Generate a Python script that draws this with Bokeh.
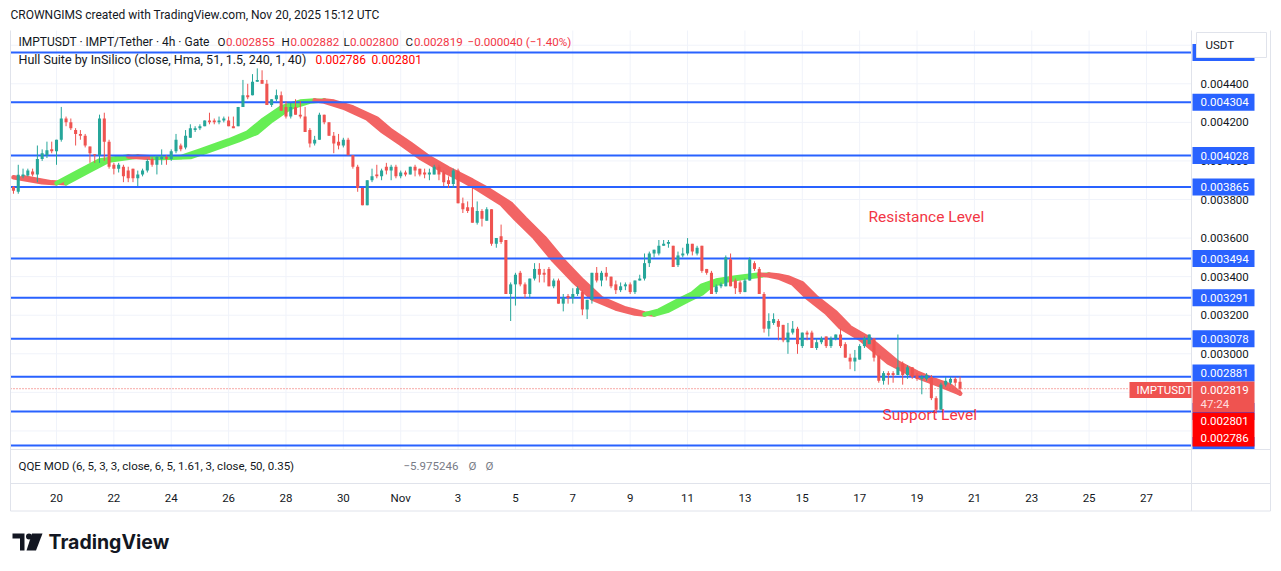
from datetime import datetime, timezone
from bokeh.plotting import figure
from bokeh.models import Range1d
from bokeh.core.properties import value
from bokeh.embed import file_html
from bokeh.resources import INLINE

# ---------------- data ----------------
first_bar = "2025-10-18T12:00"
bar_hours = 4

opens = [
    0.003865, 0.003840, 0.003920, 0.003925, 0.003945, 0.003930, 0.004010, 0.004030, 0.004060, 0.004050,
    0.004110, 0.004220, 0.004200, 0.004160, 0.004140, 0.004130, 0.004075, 0.004035, 0.004030, 0.004220,
    0.004100, 0.003980, 0.003960, 0.003970, 0.003950, 0.003960, 0.003910, 0.003930, 0.003950, 0.004010,
    0.003980, 0.004010, 0.004020, 0.004010, 0.004050, 0.004080, 0.004070, 0.004120, 0.004160, 0.004170,
    0.004180, 0.004210, 0.004210, 0.004200, 0.004210, 0.004210, 0.004180, 0.004180, 0.004280, 0.004340,
    0.004340, 0.004410, 0.004420, 0.004400, 0.004290, 0.004320, 0.004340, 0.004280, 0.004230, 0.004280,
    0.004240, 0.004230, 0.004160, 0.004090, 0.004110, 0.004240, 0.004200, 0.004130, 0.004100, 0.004080,
    0.004110, 0.004030, 0.003970, 0.003860, 0.003770, 0.003900, 0.003930, 0.003920, 0.003970, 0.003950,
    0.003970, 0.003920, 0.003940, 0.003930, 0.003970, 0.003960, 0.003940, 0.003930, 0.003930, 0.003970,
    0.003940, 0.003900, 0.003880, 0.003950, 0.003780, 0.003760, 0.003760, 0.003680, 0.003740, 0.003690,
    0.003750, 0.003570, 0.003610, 0.003590, 0.003310, 0.003360, 0.003420, 0.003360, 0.003310, 0.003390,
    0.003440, 0.003420, 0.003440, 0.003350, 0.003380, 0.003260, 0.003300, 0.003290, 0.003310, 0.003320,
    0.003230, 0.003280, 0.003420, 0.003380, 0.003420, 0.003400, 0.003360, 0.003330, 0.003350, 0.003360,
    0.003320, 0.003380, 0.003390, 0.003470, 0.003520, 0.003520, 0.003560, 0.003570, 0.003560, 0.003460,
    0.003510, 0.003520, 0.003570, 0.003520, 0.003560, 0.003440, 0.003420, 0.003320, 0.003350, 0.003350,
    0.003490, 0.003380, 0.003370, 0.003320, 0.003380, 0.003470, 0.003440, 0.003310, 0.003130, 0.003160,
    0.003170, 0.003150, 0.003060, 0.003110, 0.003130, 0.003040, 0.003110, 0.003110, 0.003030, 0.003060,
    0.003090, 0.003040, 0.003080, 0.003100, 0.003050, 0.002980, 0.002960, 0.002970, 0.003040, 0.003050,
    0.003080, 0.002990, 0.002860, 0.002900, 0.002900, 0.002890, 0.002950, 0.002890, 0.002930, 0.002890,
    0.002870, 0.002870, 0.002880, 0.002770, 0.002710, 0.002840, 0.002850, 0.002870, 0.002855,
]
highs = [
    0.003870, 0.003980, 0.003960, 0.003960, 0.003960, 0.004080, 0.004060, 0.004100, 0.004100, 0.004110,
    0.004280, 0.004230, 0.004220, 0.004170, 0.004160, 0.004140, 0.004075, 0.004035, 0.004240, 0.004250,
    0.004110, 0.003990, 0.003990, 0.003980, 0.003970, 0.003960, 0.003950, 0.003960, 0.004010, 0.004020,
    0.004030, 0.004060, 0.004030, 0.004060, 0.004140, 0.004090, 0.004160, 0.004190, 0.004180, 0.004190,
    0.004210, 0.004250, 0.004220, 0.004230, 0.004230, 0.004230, 0.004230, 0.004280, 0.004420, 0.004400,
    0.004450, 0.004480, 0.004470, 0.004420, 0.004320, 0.004370, 0.004360, 0.004310, 0.004300, 0.004320,
    0.004310, 0.004280, 0.004170, 0.004130, 0.004250, 0.004240, 0.004200, 0.004150, 0.004140, 0.004120,
    0.004120, 0.004030, 0.003980, 0.003860, 0.003900, 0.003960, 0.003980, 0.003960, 0.003990, 0.003980,
    0.003980, 0.003950, 0.003950, 0.003970, 0.003980, 0.003960, 0.003960, 0.003960, 0.003980, 0.003980,
    0.003950, 0.003920, 0.003960, 0.003960, 0.003810, 0.003790, 0.003860, 0.003790, 0.003750, 0.003760,
    0.003750, 0.003600, 0.003670, 0.003590, 0.003370, 0.003420, 0.003430, 0.003370, 0.003390, 0.003470,
    0.003470, 0.003440, 0.003450, 0.003390, 0.003390, 0.003310, 0.003310, 0.003340, 0.003350, 0.003330,
    0.003280, 0.003420, 0.003450, 0.003430, 0.003450, 0.003400, 0.003380, 0.003370, 0.003370, 0.003370,
    0.003380, 0.003410, 0.003520, 0.003530, 0.003540, 0.003590, 0.003590, 0.003590, 0.003560, 0.003530,
    0.003550, 0.003600, 0.003570, 0.003560, 0.003560, 0.003440, 0.003430, 0.003360, 0.003370, 0.003510,
    0.003520, 0.003390, 0.003380, 0.003390, 0.003500, 0.003480, 0.003450, 0.003320, 0.003210, 0.003210,
    0.003180, 0.003150, 0.003160, 0.003170, 0.003140, 0.003110, 0.003120, 0.003120, 0.003080, 0.003090,
    0.003090, 0.003090, 0.003100, 0.003130, 0.003060, 0.003000, 0.003020, 0.003050, 0.003090, 0.003100,
    0.003080, 0.002990, 0.002910, 0.002910, 0.002910, 0.003100, 0.002960, 0.002940, 0.002930, 0.002900,
    0.002890, 0.002900, 0.002890, 0.002780, 0.002850, 0.002880, 0.002880, 0.002880, 0.002882,
]
lows = [
    0.003830, 0.003830, 0.003910, 0.003920, 0.003920, 0.003890, 0.004000, 0.004015, 0.004040, 0.003980,
    0.004100, 0.004180, 0.004160, 0.004080, 0.004110, 0.004070, 0.003990, 0.003990, 0.003990, 0.004000,
    0.003960, 0.003930, 0.003940, 0.003890, 0.003890, 0.003890, 0.003870, 0.003920, 0.003940, 0.003970,
    0.003930, 0.003980, 0.003980, 0.004000, 0.004040, 0.004050, 0.004060, 0.004120, 0.004150, 0.004160,
    0.004180, 0.004190, 0.004190, 0.004190, 0.004200, 0.004180, 0.004170, 0.004180, 0.004280, 0.004320,
    0.004340, 0.004410, 0.004400, 0.004290, 0.004280, 0.004310, 0.004260, 0.004220, 0.004220, 0.004240,
    0.004220, 0.004150, 0.004070, 0.004080, 0.004110, 0.004190, 0.004130, 0.004040, 0.004060, 0.004070,
    0.004030, 0.003960, 0.003840, 0.003770, 0.003770, 0.003890, 0.003910, 0.003900, 0.003930, 0.003900,
    0.003910, 0.003910, 0.003920, 0.003930, 0.003920, 0.003920, 0.003910, 0.003900, 0.003930, 0.003900,
    0.003870, 0.003860, 0.003860, 0.003780, 0.003730, 0.003730, 0.003680, 0.003670, 0.003660, 0.003690,
    0.003560, 0.003550, 0.003570, 0.003310, 0.003170, 0.003250, 0.003350, 0.003290, 0.003290, 0.003380,
    0.003370, 0.003370, 0.003350, 0.003340, 0.003260, 0.003220, 0.003260, 0.003260, 0.003300, 0.003200,
    0.003180, 0.003260, 0.003370, 0.003350, 0.003380, 0.003340, 0.003310, 0.003320, 0.003330, 0.003310,
    0.003310, 0.003380, 0.003380, 0.003450, 0.003500, 0.003510, 0.003560, 0.003550, 0.003450, 0.003450,
    0.003500, 0.003510, 0.003510, 0.003510, 0.003420, 0.003410, 0.003310, 0.003310, 0.003340, 0.003350,
    0.003350, 0.003310, 0.003310, 0.003320, 0.003380, 0.003430, 0.003310, 0.003110, 0.003090, 0.003150,
    0.003070, 0.003060, 0.003000, 0.003100, 0.003000, 0.003030, 0.003070, 0.003030, 0.003020, 0.003050,
    0.003030, 0.003030, 0.003070, 0.003030, 0.002980, 0.002920, 0.002910, 0.002970, 0.003030, 0.003050,
    0.002960, 0.002850, 0.002840, 0.002840, 0.002850, 0.002890, 0.002840, 0.002870, 0.002870, 0.002860,
    0.002790, 0.002860, 0.002760, 0.002690, 0.002710, 0.002830, 0.002840, 0.002830, 0.002800,
]
closes = [
    0.003845, 0.003928, 0.003930, 0.003950, 0.003930, 0.004010, 0.004040, 0.004055, 0.004050, 0.004110,
    0.004220, 0.004200, 0.004170, 0.004140, 0.004130, 0.004080, 0.004040, 0.004030, 0.004220, 0.004100,
    0.003970, 0.003960, 0.003980, 0.003920, 0.003910, 0.003910, 0.003930, 0.003950, 0.004000, 0.003980,
    0.004020, 0.004020, 0.004010, 0.004050, 0.004110, 0.004060, 0.004130, 0.004170, 0.004170, 0.004180,
    0.004210, 0.004200, 0.004200, 0.004210, 0.004220, 0.004180, 0.004170, 0.004280, 0.004340, 0.004330,
    0.004410, 0.004420, 0.004400, 0.004290, 0.004320, 0.004340, 0.004260, 0.004230, 0.004280, 0.004240,
    0.004230, 0.004150, 0.004090, 0.004110, 0.004240, 0.004200, 0.004130, 0.004090, 0.004080, 0.004110,
    0.004030, 0.003970, 0.003860, 0.003770, 0.003900, 0.003920, 0.003920, 0.003950, 0.003950, 0.003970,
    0.003920, 0.003940, 0.003930, 0.003970, 0.003950, 0.003930, 0.003930, 0.003940, 0.003970, 0.003930,
    0.003890, 0.003880, 0.003950, 0.003780, 0.003750, 0.003740, 0.003680, 0.003740, 0.003700, 0.003750,
    0.003570, 0.003600, 0.003580, 0.003310, 0.003360, 0.003410, 0.003360, 0.003310, 0.003390, 0.003440,
    0.003410, 0.003410, 0.003350, 0.003380, 0.003260, 0.003290, 0.003290, 0.003310, 0.003340, 0.003230,
    0.003280, 0.003420, 0.003380, 0.003420, 0.003400, 0.003350, 0.003330, 0.003350, 0.003360, 0.003320,
    0.003380, 0.003390, 0.003470, 0.003520, 0.003540, 0.003560, 0.003570, 0.003580, 0.003450, 0.003510,
    0.003520, 0.003570, 0.003530, 0.003550, 0.003430, 0.003420, 0.003310, 0.003350, 0.003360, 0.003500,
    0.003350, 0.003340, 0.003320, 0.003380, 0.003490, 0.003440, 0.003310, 0.003130, 0.003170, 0.003180,
    0.003140, 0.003070, 0.003110, 0.003130, 0.003050, 0.003110, 0.003100, 0.003030, 0.003060, 0.003080,
    0.003040, 0.003080, 0.003100, 0.003040, 0.002980, 0.002960, 0.002980, 0.003040, 0.003080, 0.003100,
    0.002980, 0.002860, 0.002900, 0.002890, 0.002890, 0.002930, 0.002890, 0.002930, 0.002880, 0.002870,
    0.002880, 0.002890, 0.002770, 0.002710, 0.002840, 0.002860, 0.002870, 0.002850, 0.002819,
]

# Hull Suite centre line (bar index, value)
hull_bar = [0, 6, 9, 14, 18, 24, 29, 35, 39, 45, 49, 52, 56, 60, 63, 65, 69, 74, 77, 81, 85, 89, 94,
            97, 102, 105, 109, 113, 117, 121, 126, 130, 132, 135, 139, 142, 144, 147, 151, 156, 158,
            160, 163, 166, 170, 173, 177, 180, 183, 187, 190, 194, 198]
hull_val = [0.003915, 0.003889, 0.003884, 0.003950, 0.004002, 0.004023, 0.004015, 0.004020, 0.004054,
            0.004106, 0.004147, 0.004209, 0.004277, 0.004308, 0.004314, 0.004308, 0.004277, 0.004220,
            0.004157, 0.004090, 0.004018, 0.003961, 0.003898, 0.003857, 0.003779, 0.003701, 0.003603,
            0.003484, 0.003380, 0.003287, 0.003235, 0.003209, 0.003204, 0.003224, 0.003276, 0.003313,
            0.003354, 0.003380, 0.003396, 0.003411, 0.003406, 0.003396, 0.003365, 0.003292, 0.003214,
            0.003137, 0.003079, 0.003017, 0.002955, 0.002903, 0.002872, 0.002835, 0.002794]

level_prices = [0.004562, 0.004304, 0.004028, 0.003865, 0.003494, 0.003291, 0.003078, 0.002881,
                0.002701, 0.002525]
# labels of the first and last level are hidden behind other boxes in the reference
level_labels = ["", "0.004304", "0.004028", "0.003865", "0.003494", "0.003291", "0.003078",
                "0.002881", "", ""]

price_ticks = [0.0030, 0.0032, 0.0034, 0.0036, 0.0038, 0.0040, 0.0042, 0.0044]
price_tick_labels = ["0.003000", "0.003200", "0.003400", "0.003600", "0.003800", "0.004000",
                     "0.004200", "0.004400"]
grid_prices = [0.0026, 0.0028, 0.0030, 0.0032, 0.0034, 0.0036, 0.0038, 0.0040, 0.0042, 0.0044, 0.0046]

date_ticks = ["2025-10-20", "2025-10-22", "2025-10-24", "2025-10-26", "2025-10-28", "2025-10-30",
              "2025-11-01", "2025-11-03", "2025-11-05", "2025-11-07", "2025-11-09", "2025-11-11",
              "2025-11-13", "2025-11-15", "2025-11-17", "2025-11-19", "2025-11-21", "2025-11-23",
              "2025-11-25", "2025-11-27"]
date_tick_labels = ["20", "22", "24", "26", "28", "30", "Nov", "3", "5", "7", "9", "11", "13", "15",
                    "17", "19", "21", "23", "25", "27"]

last_open, last_high, last_low, last_close = 0.002855, 0.002882, 0.002800, 0.002819
hull_now = [0.002786, 0.002801]

# ---------------- geometry helpers ----------------
def ms(s):
    return datetime.fromisoformat(s).replace(tzinfo=timezone.utc).timestamp() * 1000.0

DAY = 86400000.0
H4 = bar_hours * 3600000.0
W, H = 1281, 571
PX_DAY = 28.684
X_ORIGIN = ms("2025-10-20") - 56.0 / PX_DAY * DAY
PP = 5.185e-6                      # price per pixel
Y_TOP = 0.0030 + 353.3 * PP

def X(px):
    return X_ORIGIN + px / PX_DAY * DAY

def Y(py):
    return Y_TOP - py * PP

t0 = ms(first_bar)
times = [t0 + i * H4 for i in range(len(closes))]
t_last = times[-1]

p = figure(width=W, height=H, x_range=Range1d(X(0), X(W)), y_range=Range1d(Y(H), Y(0)),
           x_axis_type=None, y_axis_type=None, toolbar_location=None, output_backend="svg",
           min_border=0, outline_line_color=None, background_fill_color="white",
           border_fill_color="white")

FONT = value("Roboto")
DARK = "#131722"
GRIDC = "#f0f3fa"
BORDER = "#e0e3eb"
BLUE = "#2962ff"
UP = "#26a69a"
DN = "#ef5350"

def txt(px, py, s, color=DARK, size="12px", align="left", bold=False, font=FONT):
    p.text(x=[X(px)], y=[Y(py)], text=[s], text_color=color, text_font_size=size,
           text_align=align, text_baseline="middle", text_font=font,
           text_font_style="bold" if bold else "normal")

# ---------------- grid ----------------
dt = [ms(d) for d in date_ticks]
p.segment(x0=dt, y0=[Y(30)] * len(dt), x1=dt, y1=[Y(449)] * len(dt), line_color=GRIDC, line_width=1)
p.segment(x0=[X(10)] * len(grid_prices), y0=grid_prices, x1=[X(1191)] * len(grid_prices),
          y1=grid_prices, line_color=GRIDC, line_width=1)

# ---------------- Hull band (HULL and HULL[2]) ----------------
hx = [t0 + b * H4 for b in hull_bar]
shift = 2 * H4
runs = []
k = 0
while k < len(hx) - 1:
    up = hull_val[k + 1] > hull_val[k]
    j = k
    while j < len(hx) - 1 and (hull_val[j + 1] > hull_val[j]) == up:
        j += 1
    runs.append((k, j, up))
    k = j
GREEN_B = "#66ee55"
RED_B = "#f26464"
pxs, pys, pcs, lxs, lys, lcs = [], [], [], [], [], []
for a, b, up in runs:
    fx = hx[a:b + 1]
    fy = hull_val[a:b + 1]
    sx = [min(v + shift, t_last) for v in fx]
    col = GREEN_B if up else RED_B
    pxs.append(fx + sx[::-1])
    pys.append(fy + fy[::-1])
    pcs.append(col)
    lxs += [fx, sx]
    lys += [fy, fy]
    lcs += [col, col]
p.patches(xs=pxs, ys=pys, fill_color=pcs, line_color=None)
p.multi_line(xs=lxs, ys=lys, line_color=lcs, line_width=4.5, line_cap="round", line_join="round")

# ---------------- horizontal levels ----------------
n_lv = len(level_prices)
p.segment(x0=[X(10)] * n_lv, y0=level_prices, x1=[X(1191)] * n_lv, y1=level_prices,
          line_color=BLUE, line_width=2)

# last price dotted line
p.segment(x0=[X(10)], y0=[last_close], x1=[X(1129)], y1=[last_close], line_color=DN,
          line_width=1, line_dash="1 2")

# ---------------- candles ----------------
cols = [UP if c >= o else DN for o, c in zip(opens, closes)]
tops = [max(o, c) for o, c in zip(opens, closes)]
bots = [min(o, c) for o, c in zip(opens, closes)]
tops = [t if t - b >= PP else b + PP for t, b in zip(tops, bots)]
p.segment(x0=times, y0=lows, x1=times, y1=highs, line_color=cols, line_width=1)
p.vbar(x=times, width=0.64 * H4, top=tops, bottom=bots, fill_color=cols, line_color=None)

# ---------------- annotations in chart ----------------
txt(868, 216, "Resistance Level", color="#f23645", size="15.5px")
txt(882, 414, "Support Level", color="#f23645", size="15.5px")

# ---------------- borders / panes ----------------
p.segment(x0=[X(10), X(10), X(10), X(10), X(1191), X(1270)],
          y0=[Y(449), Y(483), Y(510.5), Y(30), Y(30), Y(30)],
          x1=[X(1270), X(1270), X(1270), X(10), X(1191), X(1270)],
          y1=[Y(449), Y(483), Y(510.5), Y(510.5), Y(510.5), Y(510.5)],
          line_color=BORDER, line_width=1)

# ---------------- price scale ----------------
p.text(x=[X(1200)] * len(price_ticks), y=price_ticks, text=price_tick_labels, text_color=DARK,
       text_font_size="11.5px", text_baseline="middle", text_align="left", text_font=FONT)

# blue level labels
lab_centers = []
for pr, lb in zip(level_prices, level_labels):
    c = pr
    if lb == "0.002881":
        c = Y(372.5)
    lab_centers.append(c)
p.quad(left=[X(1192)] * n_lv, right=[X(1254)] * n_lv, top=[c + 8.5 * PP for c in lab_centers],
       bottom=[max(c - 8.5 * PP, Y(448.5)) for c in lab_centers], fill_color=BLUE, line_color=None)
p.text(x=[X(1200)] * n_lv, y=lab_centers, text=level_labels, text_color="white",
       text_font_size="11.5px", text_baseline="middle", text_align="left", text_font=FONT)

# USDT box
p.quad(left=[X(1196)], right=[X(1266)], top=[Y(32)], bottom=[Y(57)], fill_color="white",
       line_color=BORDER, line_width=1)
txt(1205, 44.5, "USDT", size="11.5px")

# last price label
p.quad(left=[X(1192)], right=[X(1254)], top=[Y(381)], bottom=[Y(411.5)], fill_color=DN, line_color=None)
txt(1200, 389.5, "%.6f" % last_close, color="white", size="11.5px")
txt(1200, 403.5, "47:24", color="#ffdede", size="11.5px")
p.quad(left=[X(1129)], right=[X(1191)], top=[Y(381.5)], bottom=[Y(397.5)], fill_color=DN, line_color=None)
txt(1136, 389.5, "IMPTUSDT", color="white", size="11.5px")
# hull labels
p.quad(left=[X(1192)], right=[X(1254)], top=[Y(412)], bottom=[Y(446)], fill_color="#ff0000", line_color=None)
txt(1200, 420.5, "%.6f" % hull_now[1], color="white", size="11.5px")
txt(1200, 437.5, "%.6f" % hull_now[0], color="white", size="11.5px")

# ---------------- time scale ----------------
p.text(x=dt, y=[Y(497)] * len(dt), text=date_tick_labels, text_color=DARK, text_font_size="11.5px",
       text_align="center", text_baseline="middle", text_font=FONT)

# ---------------- legends / header ----------------
txt(10, 14.5, "CROWNGIMS created with TradingView.com, Nov 20, 2025 15:12 UTC", size="12px")
RED_T = "#f23645"
LG = "11.6px"
txt(18, 41.5, "IMPTUSDT \u00b7 IMPT/Tether \u00b7 4h \u00b7 Gate", size="12px")
txt(217, 41.5, "O", size=LG)
txt(225.5, 41.5, "%.6f" % last_open, color=RED_T, size=LG)
txt(281, 41.5, "H", size=LG)
txt(290, 41.5, "%.6f" % last_high, color=RED_T, size=LG)
txt(343, 41.5, "L", size=LG)
txt(349.5, 41.5, "%.6f" % last_low, color=RED_T, size=LG)
txt(405, 41.5, "C", size=LG)
txt(413.5, 41.5, "%.6f" % last_close, color=RED_T, size=LG)
txt(467, 41.5, "\u22120.000040 (\u22121.40%)", color=RED_T, size=LG)
txt(18, 58.5, "Hull Suite by InSilico (close, Hma, 51, 1.5, 240, 1, 40)", size="12.5px")
txt(315, 58.5, "%.6f" % hull_now[0], color="#ff0000", size="12px")
txt(371, 58.5, "%.6f" % hull_now[1], color="#ff0000", size="12px")

txt(18, 465, "QQE MOD (6, 5, 3, 3, close, 6, 5, 1.61, 3, close, 50, 0.35)", size="11.5px")
txt(403, 465, "\u22125.975246", color="#787b86", size="11.5px")
txt(468, 465, "\u00d8", color="#787b86", size="11.5px")
txt(485, 465, "\u00d8", color="#787b86", size="11.5px")

# ---------------- TradingView logo ----------------
p.patches(xs=[[X(12), X(24), X(24), X(19.5), X(19.5), X(12)],
              [X(31.5), X(42), X(35.5), X(26)]],
          ys=[[Y(533), Y(533), Y(550), Y(550), Y(538), Y(538)],
              [Y(533), Y(533), Y(550), Y(550)]],
          fill_color=DARK, line_color=None)
p.scatter(x=[X(28.5)], y=[Y(536)], size=6, fill_color=DARK, line_color=None)
txt(48, 541.5, "TradingView", size="19.5px", bold=True, font=value("Inter"))

open("out.html", "w").write(file_html(p, INLINE))
